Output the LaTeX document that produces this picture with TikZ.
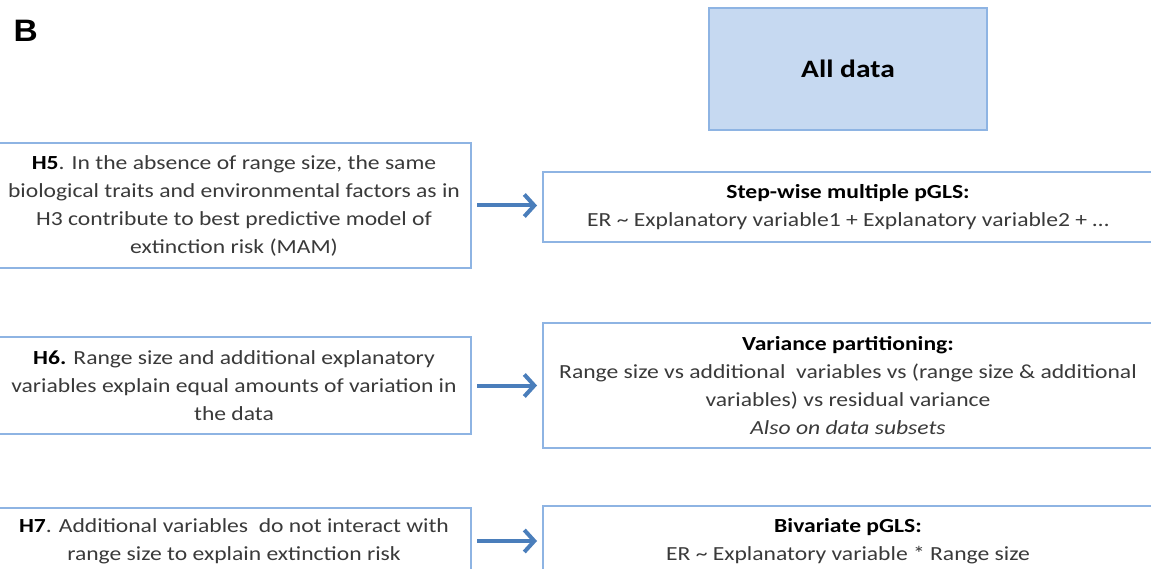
\documentclass[tikz,border=0pt]{standalone}
\usepackage{fontspec}
\setmainfont{Carlito}[FakeStretch=1.18]
\newfontfamily\arialfont{Liberation Sans}[FakeStretch=1.08]
\usetikzlibrary{arrows.meta}
\definecolor{bord}{HTML}{8EB4E3}
\definecolor{fillb}{HTML}{C6D9F1}
\definecolor{arr}{HTML}{4A7EBB}
\definecolor{txt}{HTML}{3A3A3A}
\tikzset{
  hbox/.style={draw=bord, line width=2pt, fill=white, align=center, inner sep=0pt,
    font=\fontsize{20}{28}\selectfont, text=txt},
  mbox/.style={hbox},
  databox/.style={draw=bord, line width=2.5pt, fill=fillb, inner sep=0pt,
    font=\fontsize{25}{30}\selectfont\bfseries, text=black},
  conn/.style={draw=arr, line width=4pt, -{Straight Barb[length=10pt,width=22pt,line width=4pt]},
    shorten >=5pt, shorten <=5pt}
}
\begin{document}
\begin{tikzpicture}[x=1pt,y=-1pt]
\useasboundingbox (0,0) rectangle (1151,569);
\clip (0,0) rectangle (1151,569);
\fill[white] (0,0) rectangle (1151,569);
\node[anchor=base west, font=\arialfont\fontsize{31}{31}\selectfont\bfseries] (lbl) at (10,42) {B};
\node[databox, minimum width=278pt, minimum height=122pt] (all) at (848,69) {All data};
\node[hbox, minimum width=474pt, minimum height=125pt] (h5) at (234,205.5)
  {\textbf{\color{black}H5}. In the absence of range size, the same\\
   biological traits and environmental factors as in\\
   H3 contribute to best predictive model of\\
   extinction risk (MAM)};
\node[hbox, minimum width=474pt, minimum height=97pt] (h6) at (234,385.5)
  {\textbf{\color{black}H6.} Range size and additional explanatory\\
   variables explain equal amounts of variation in\\
   the data};
\node[hbox, minimum width=474pt, minimum height=66pt] (h7) at (234,541)
  {\textbf{\color{black}H7}. Additional variables\ \ do not interact with\\
   range size to explain extinction risk};
\node[mbox, minimum width=610pt, minimum height=70pt] (m5) at (848,207)
  {\textbf{\color{black}Step-wise multiple pGLS:}\\
   ER \textasciitilde\ Explanatory variable1 + Explanatory variable2 + \dots};
\node[mbox, minimum width=610pt, minimum height=125pt] (m6) at (848,385.5)
  {\textbf{\color{black}Variance partitioning:}\\
   Range size vs additional\ \ variables vs (range size \& additional\\
   variables) vs residual variance\\
   \textit{Also on data subsets}};
\node[mbox, minimum width=610pt, minimum height=70pt] (m7) at (848,541)
  {\textbf{\color{black}Bivariate pGLS:}\\
   ER \textasciitilde\ Explanatory variable * Range size};
\draw[conn] (h5.east) -- (m5.west |- h5.east);
\draw[conn] (h6.east) -- (m6.west |- h6.east);
\draw[conn] (h7.east) -- (m7.west |- h7.east);
\end{tikzpicture}
\end{document}
